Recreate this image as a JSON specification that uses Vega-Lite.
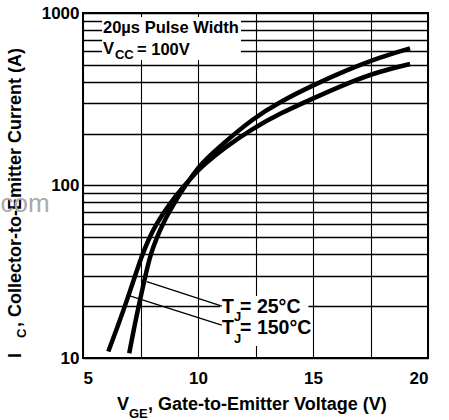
{
  "$schema": "https://vega.github.io/schema/vega-lite/v6.json",
  "width": 345,
  "height": 345,
  "autosize": "none",
  "padding": {"left": 83, "top": 13, "right": 21, "bottom": 62},
  "background": "white",
  "config": {
    "view": {"stroke": "black", "strokeWidth": 2},
    "font": "Liberation Sans",
    "axis": {
      "grid": true, "gridColor": "black", "gridOpacity": 1,
      "ticks": false, "domain": false,
      "labelFont": "Liberation Sans", "labelFontSize": 17, "labelFontWeight": "bold", "labelColor": "black",
      "title": null
    },
    "axisX": {"gridWidth": 1.1},
    "axisY": {"gridWidth": 1.5}
  },
  "layer": [
    {
      "data": {"values": [
        {"x1": 5.83, "x2": 11.87, "y1": 534, "y2": 948},
        {"x1": 10.96, "x2": 14.8, "y1": 11.74, "y2": 22.9}
      ]},
      "mark": {"type": "rect", "fill": "white", "stroke": null},
      "encoding": {
        "x": {"field": "x1", "type": "quantitative", "scale": {"domain": [5, 20], "nice": false, "zero": false},
          "axis": {"values": [5, 7.5, 10, 12.5, 15, 17.5, 20], "format": "d", "labelExpr": "datum.value % 5 === 0 ? datum.label : ''", "labelPadding": 12, "labelDx": 3, "title": null}},
        "x2": {"field": "x2"},
        "y": {"field": "y1", "type": "quantitative", "scale": {"type": "log", "domain": [10, 1000], "nice": false},
          "axis": {"values": [10, 20, 30, 40, 50, 60, 70, 80, 90, 100, 200, 300, 400, 500, 600, 700, 800, 900, 1000], "format": "d", "labelExpr": "(datum.value === 10 || datum.value === 100 || datum.value === 1000) ? datum.label : ''", "labelPadding": 4, "title": null}},
        "y2": {"field": "y2"}
      }
    },
    {
      "data": {"values": [
        {"Tj": "25°C", "VGE": 7.01, "IC": 10.65},
        {"Tj": "25°C", "VGE": 7.26, "IC": 15.9},
        {"Tj": "25°C", "VGE": 7.48, "IC": 21.7},
        {"Tj": "25°C", "VGE": 7.7, "IC": 29.6},
        {"Tj": "25°C", "VGE": 7.95, "IC": 40.5},
        {"Tj": "25°C", "VGE": 8.2, "IC": 49.5},
        {"Tj": "25°C", "VGE": 8.49, "IC": 61},
        {"Tj": "25°C", "VGE": 8.93, "IC": 77.5},
        {"Tj": "25°C", "VGE": 9.36, "IC": 96},
        {"Tj": "25°C", "VGE": 9.8, "IC": 116},
        {"Tj": "25°C", "VGE": 10.09, "IC": 132},
        {"Tj": "25°C", "VGE": 11.1, "IC": 175.7},
        {"Tj": "25°C", "VGE": 12.4, "IC": 245},
        {"Tj": "25°C", "VGE": 13.57, "IC": 306},
        {"Tj": "25°C", "VGE": 15.01, "IC": 382},
        {"Tj": "25°C", "VGE": 16.47, "IC": 467},
        {"Tj": "25°C", "VGE": 17.91, "IC": 555},
        {"Tj": "25°C", "VGE": 19.22, "IC": 624},
        {"Tj": "150°C", "VGE": 6.1, "IC": 10.9},
        {"Tj": "150°C", "VGE": 6.61, "IC": 16.6},
        {"Tj": "150°C", "VGE": 6.97, "IC": 22.8},
        {"Tj": "150°C", "VGE": 7.26, "IC": 29.8},
        {"Tj": "150°C", "VGE": 7.57, "IC": 39.5},
        {"Tj": "150°C", "VGE": 7.84, "IC": 48.3},
        {"Tj": "150°C", "VGE": 8.2, "IC": 60.4},
        {"Tj": "150°C", "VGE": 8.78, "IC": 78.9},
        {"Tj": "150°C", "VGE": 9.36, "IC": 98.4},
        {"Tj": "150°C", "VGE": 9.94, "IC": 120},
        {"Tj": "150°C", "VGE": 10.23, "IC": 131},
        {"Tj": "150°C", "VGE": 11.1, "IC": 164},
        {"Tj": "150°C", "VGE": 12.4, "IC": 214.6},
        {"Tj": "150°C", "VGE": 13.57, "IC": 262},
        {"Tj": "150°C", "VGE": 15.01, "IC": 320},
        {"Tj": "150°C", "VGE": 16.47, "IC": 391},
        {"Tj": "150°C", "VGE": 17.91, "IC": 460},
        {"Tj": "150°C", "VGE": 19.22, "IC": 506}
      ]},
      "mark": {"type": "line", "color": "black", "strokeWidth": 4.5, "interpolate": "basis", "strokeCap": "butt"},
      "encoding": {
        "x": {"field": "VGE", "type": "quantitative", "scale": {"domain": [5, 20], "nice": false, "zero": false}},
        "y": {"field": "IC", "type": "quantitative", "scale": {"type": "log", "domain": [10, 1000], "nice": false}},
        "detail": {"field": "Tj"},
        "order": {"field": "VGE"}
      }
    },
    {
      "data": {"values": [
        {"x1": 7.77, "y1": 27.7, "x2": 11.04, "y2": 20.0},
        {"x1": 6.9, "y1": 23.2, "x2": 11.03, "y2": 15.5}
      ]},
      "mark": {"type": "rule", "color": "black", "strokeWidth": 1.3},
      "encoding": {
        "x": {"field": "x1", "type": "quantitative", "scale": {"domain": [5, 20], "nice": false, "zero": false}},
        "y": {"field": "y1", "type": "quantitative", "scale": {"type": "log", "domain": [10, 1000], "nice": false}},
        "x2": {"field": "x2"},
        "y2": {"field": "y2"}
      }
    },
    {
      "data": {"values": [
        {"t": "20µs Pulse Width", "x": 5.87, "y": 818.5},
        {"t": "V", "x": 5.87, "y": 618.5},
        {"t": "= 100V", "x": 7.35, "y": 610.4}
      ]},
      "mark": {"type": "text", "align": "left", "baseline": "middle", "fontSize": 16.5, "fontWeight": "bold", "color": "black", "clip": false},
      "encoding": {
        "x": {"field": "x", "type": "quantitative", "scale": {"domain": [5, 20], "nice": false, "zero": false}},
        "y": {"field": "y", "type": "quantitative", "scale": {"type": "log", "domain": [10, 1000], "nice": false}},
        "text": {"field": "t"}
      }
    },
    {
      "data": {"values": [
        {"t": "T", "x": 11.04, "y": 19.75},
        {"t": "= 25°C", "x": 11.83, "y": 19.75},
        {"t": "T", "x": 11.04, "y": 14.93},
        {"t": "= 150°C", "x": 11.83, "y": 14.93}
      ]},
      "mark": {"type": "text", "align": "left", "baseline": "middle", "fontSize": 19.5, "fontWeight": "bold", "color": "black", "clip": false},
      "encoding": {
        "x": {"field": "x", "type": "quantitative", "scale": {"domain": [5, 20], "nice": false, "zero": false}},
        "y": {"field": "y", "type": "quantitative", "scale": {"type": "log", "domain": [10, 1000], "nice": false}},
        "text": {"field": "t"}
      }
    },
    {
      "data": {"values": [
        {"t": "V", "x": 6.48, "y": 5.34},
        {"t": ", Gate-to-Emitter Voltage (V)", "x": 7.83, "y": 5.34}
      ]},
      "mark": {"type": "text", "align": "left", "baseline": "middle", "fontSize": 18, "fontWeight": "bold", "color": "black", "clip": false},
      "encoding": {
        "x": {"field": "x", "type": "quantitative", "scale": {"domain": [5, 20], "nice": false, "zero": false}},
        "y": {"field": "y", "type": "quantitative", "scale": {"type": "log", "domain": [10, 1000], "nice": false}},
        "text": {"field": "t"}
      }
    },
    {
      "data": {"values": [
        {"t": "CC", "x": 6.39, "y": 570.9},
        {"t": "J", "x": 11.56, "y": 17.3},
        {"t": "J", "x": 11.56, "y": 12.9},
        {"t": "GE", "x": 7.0, "y": 4.74}
      ]},
      "mark": {"type": "text", "align": "left", "baseline": "middle", "fontSize": 13, "fontWeight": "bold", "color": "black", "clip": false},
      "encoding": {
        "x": {"field": "x", "type": "quantitative", "scale": {"domain": [5, 20], "nice": false, "zero": false}},
        "y": {"field": "y", "type": "quantitative", "scale": {"type": "log", "domain": [10, 1000], "nice": false}},
        "text": {"field": "t"}
      }
    },
    {
      "data": {"values": [
        {"t": "I", "x": 2.09, "y": 10.0},
        {"t": ", Collector-to-Emitter Current (A)", "x": 2.09, "y": 15.12}
      ]},
      "mark": {"type": "text", "align": "left", "baseline": "middle", "angle": 270, "fontSize": 18, "fontWeight": "bold", "color": "black", "clip": false},
      "encoding": {
        "x": {"field": "x", "type": "quantitative", "scale": {"domain": [5, 20], "nice": false, "zero": false}},
        "y": {"field": "y", "type": "quantitative", "scale": {"type": "log", "domain": [10, 1000], "nice": false}},
        "text": {"field": "t"}
      }
    },
    {
      "data": {"values": [
        {"t": "C", "x": 2.35, "y": 13.06}
      ]},
      "mark": {"type": "text", "align": "left", "baseline": "middle", "angle": 270, "fontSize": 13, "fontWeight": "bold", "color": "black", "clip": false},
      "encoding": {
        "x": {"field": "x", "type": "quantitative", "scale": {"domain": [5, 20], "nice": false, "zero": false}},
        "y": {"field": "y", "type": "quantitative", "scale": {"type": "log", "domain": [10, 1000], "nice": false}},
        "text": {"field": "t"}
      }
    },
    {
      "data": {"values": [
        {"t": "com", "x": 3.55, "y": 70.2}
      ]},
      "mark": {"type": "text", "align": "right", "baseline": "alphabetic", "fontSize": 26, "color": "#aaaaaa", "clip": false},
      "encoding": {
        "x": {"field": "x", "type": "quantitative", "scale": {"domain": [5, 20], "nice": false, "zero": false}},
        "y": {"field": "y", "type": "quantitative", "scale": {"type": "log", "domain": [10, 1000], "nice": false}},
        "text": {"field": "t"}
      }
    }
  ]
}
